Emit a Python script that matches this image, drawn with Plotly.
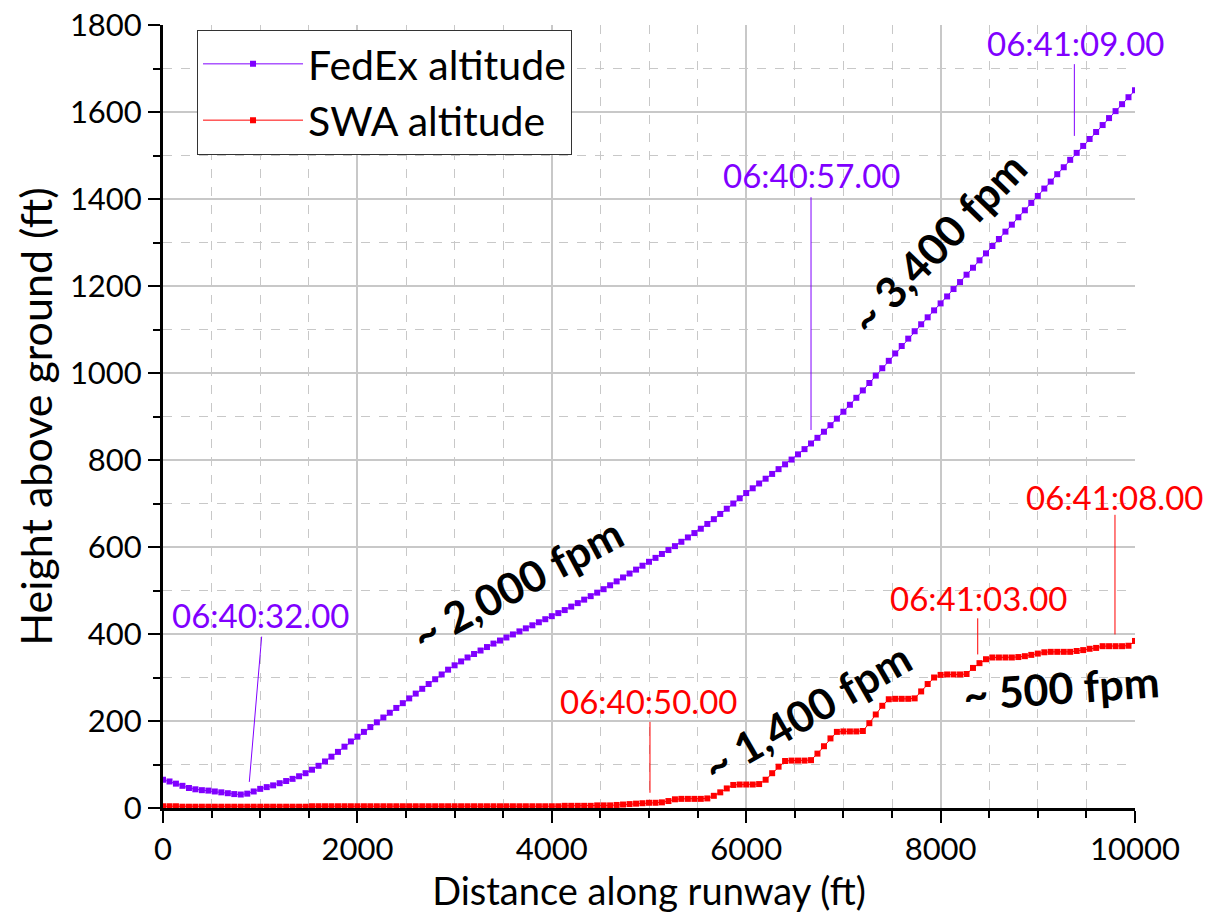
import plotly.graph_objects as go

# ---------------- data ----------------
DIST_FT = [
    0, 67, 133, 200, 267, 333, 400, 467, 533, 600, 667, 733, 800, 867, 933,
    1000, 1067, 1133, 1200, 1267, 1333, 1400, 1467, 1533, 1600, 1667, 1733, 1800, 1867, 1933,
    2000, 2067, 2133, 2200, 2267, 2333, 2400, 2467, 2533, 2600, 2667, 2733, 2800, 2867, 2933,
    3000, 3067, 3133, 3200, 3267, 3333, 3400, 3467, 3533, 3600, 3667, 3733, 3800, 3867, 3933,
    4000, 4067, 4133, 4200, 4267, 4333, 4400, 4467, 4533, 4600, 4667, 4733, 4800, 4867, 4933,
    5000, 5067, 5133, 5200, 5267, 5333, 5400, 5467, 5533, 5600, 5667, 5733, 5800, 5867, 5933,
    6000, 6067, 6133, 6200, 6267, 6333, 6400, 6467, 6533, 6600, 6667, 6733, 6800, 6867, 6933,
    7000, 7067, 7133, 7200, 7267, 7333, 7400, 7467, 7533, 7600, 7667, 7733, 7800, 7867, 7933,
    8000, 8067, 8133, 8200, 8267, 8333, 8400, 8467, 8533, 8600, 8667, 8733, 8800, 8867, 8933,
    9000, 9067, 9133, 9200, 9267, 9333, 9400, 9467, 9533, 9600, 9667, 9733, 9800, 9867, 9933,
    10000,
]

FEDEX_ALT = [
    65, 61, 56, 51, 46, 43, 41, 40, 38, 36, 34, 32, 31, 33, 38,
    44, 48, 52, 57, 62, 67, 73, 80, 88, 97, 107, 118, 129, 141, 153,
    164, 175, 186, 197, 208, 219, 230, 241, 252, 263, 274, 285, 296, 307, 318,
    328, 337, 346, 354, 362, 370, 378, 385, 392, 399, 406, 413, 420, 427, 434,
    441, 448, 455, 463, 471, 479, 487, 495, 503, 512, 521, 530, 539, 548, 557,
    566, 575, 584, 593, 602, 612, 622, 632, 642, 653, 664, 676, 688, 700, 712,
    724, 735, 746, 757, 768, 779, 790, 801, 813, 825, 838, 851, 865, 880, 895,
    911, 927, 943, 960, 977, 994, 1011, 1028, 1045, 1062, 1079, 1096, 1112, 1128, 1144,
    1160, 1176, 1193, 1209, 1226, 1242, 1259, 1275, 1292, 1308, 1325, 1341, 1358, 1374, 1391,
    1407, 1424, 1440, 1457, 1473, 1490, 1506, 1522, 1538, 1554, 1570, 1586, 1602, 1618, 1634,
    1650,
]

SWA_ALT = [
    4, 4, 4, 3, 3, 3, 3, 3, 3, 3, 3, 3, 3, 3, 3,
    3, 3, 3, 3, 3, 3, 3, 3, 4, 4, 4, 4, 4, 4, 4,
    4, 4, 4, 4, 4, 4, 4, 4, 4, 4, 4, 4, 4, 4, 4,
    4, 4, 4, 4, 4, 4, 4, 4, 4, 4, 4, 4, 4, 4, 4,
    4, 4, 5, 5, 5, 5, 5, 6, 6, 6, 7, 8, 9, 10, 11,
    12, 12, 13, 16, 20, 21, 21, 21, 21, 22, 28, 36, 45, 53, 54,
    54, 54, 55, 65, 80, 95, 108, 109, 109, 109, 110, 125, 142, 160, 175,
    176, 176, 176, 177, 195, 215, 235, 250, 251, 251, 251, 252, 268, 285, 300,
    306, 307, 307, 307, 308, 322, 333, 342, 346, 346, 346, 346, 347, 349, 352,
    355, 358, 359, 359, 359, 359, 361, 363, 366, 368, 372, 372, 372, 372, 373,
    384,
]

SERIES_NAMES = ["FedEx altitude", "SWA altitude"]
X_TICKS = [0, 2000, 4000, 6000, 8000, 10000]
X_TICK_LABELS = ["0", "2000", "4000", "6000", "8000", "10000"]
Y_TICKS = [0, 200, 400, 600, 800, 1000, 1200, 1400, 1600, 1800]
Y_TICK_LABELS = ["0", "200", "400", "600", "800", "1000", "1200", "1400", "1600", "1800"]

TIME_LABELS = ["06:40:32.00", "06:40:57.00", "06:41:09.00",
               "06:40:50.00", "06:41:03.00", "06:41:08.00"]
RATE_LABELS = ["~ 2,000 fpm", "~ 3,400 fpm", "~ 1,400 fpm", "~ 500 fpm"]

# ---------------- styling ----------------
PURPLE = "#8000FF"
RED = "#FF0000"
FONT = "Lato"
GRID = "#c8c8c8"

fig = go.Figure()
for name, ys, col in [(SERIES_NAMES[0], FEDEX_ALT, PURPLE), (SERIES_NAMES[1], SWA_ALT, RED)]:
    fig.add_trace(go.Scatter(
        x=DIST_FT, y=ys, name=name, mode="lines+markers",
        line=dict(color=col, width=1),
        marker=dict(symbol="square", size=6, color=col, line=dict(width=0)),
    ))

# time stamp labels: (text, colour, text x, text y, leader start, leader end)
stamps = [
    (TIME_LABELS[0], PURPLE, 1008, 444, (1015, 394), (888, 60)),
    (TIME_LABELS[1], PURPLE, 6674, 1455, (6667, 1404), (6667, 869)),
    (TIME_LABELS[2], PURPLE, 9383, 1759, (9376, 1710), (9376, 1545)),
    (TIME_LABELS[3], RED, 4990, 246, (5010, 198), (5010, 35)),
    (TIME_LABELS[4], RED, 8385, 483, (8382, 436), (8382, 353)),
    (TIME_LABELS[5], RED, 9794, 715, (9794, 674), (9794, 399)),
]
shapes = []
annotations = []
for txt, col, tx, ty, p0, p1 in stamps:
    annotations.append(dict(x=tx, y=ty, xref="x", yref="y", text=txt, showarrow=False,
                            font=dict(family=FONT, size=33, color=col),
                            xanchor="center", yanchor="middle"))
    shapes.append(dict(type="line", xref="x", yref="y", x0=p0[0], y0=p0[1], x1=p1[0], y1=p1[1],
                       line=dict(color=col, width=1)))

rates = [
    (RATE_LABELS[0], 3642, 517, -28),
    (RATE_LABELS[1], 7973, 1299, -46),
    (RATE_LABELS[2], 6626, 221, -30),
    (RATE_LABELS[3], 9239, 278, -4),
]
for txt, tx, ty, ang in rates:
    annotations.append(dict(x=tx, y=ty, xref="x", yref="y", text="<b>" + txt + "</b>",
                            showarrow=False, textangle=ang,
                            font=dict(family=FONT, size=43, color="black"),
                            xanchor="center", yanchor="middle"))

axis_common = dict(
    showline=True, linecolor="black", linewidth=3, mirror=False,
    ticks="outside", ticklen=12, tickwidth=2, tickcolor="black",
    showgrid=True, gridcolor=GRID, gridwidth=1.5, zeroline=False,
    ticklabeloverflow="allow",
    automargin=False,
)

# the page body adds an 8 px offset, so the figure is sized 16 px smaller
fig.update_layout(
    width=1195, height=905,
    margin=dict(l=155, r=68, t=17, b=105),
    paper_bgcolor="white", plot_bgcolor="white",
    font=dict(family=FONT, color="black"),
    xaxis=dict(axis_common, range=[0, 10000], tickvals=X_TICKS, ticktext=X_TICK_LABELS,
               tickfont=dict(family=FONT, size=31, color="black"),
               title=dict(text="Distance along runway (ft)", font=dict(family=FONT, size=38), standoff=14),
               minor=dict(dtick=500, ticks="outside", ticklen=7, tickwidth=2, tickcolor="black",
                          showgrid=True, gridcolor=GRID, griddash="dash", gridwidth=1)),
    yaxis=dict(axis_common, range=[0, 1800], tickvals=Y_TICKS, ticktext=Y_TICK_LABELS,
               tickfont=dict(family=FONT, size=31, color="black"),
               title=dict(text="Height above ground (ft)", font=dict(family=FONT, size=43), standoff=4),
               minor=dict(dtick=100, ticks="outside", ticklen=7, tickwidth=2, tickcolor="black",
                          showgrid=True, gridcolor=GRID, griddash="dash", gridwidth=1)),
    legend=dict(x=0.035, y=0.994, xanchor="left", yanchor="top",
                bordercolor="#333333", borderwidth=1, bgcolor="white",
                font=dict(family=FONT, size=41, color="black"), itemwidth=100,
                tracegroupgap=0),
    shapes=shapes,
    annotations=annotations,
)

fig.write_html("out.html")
